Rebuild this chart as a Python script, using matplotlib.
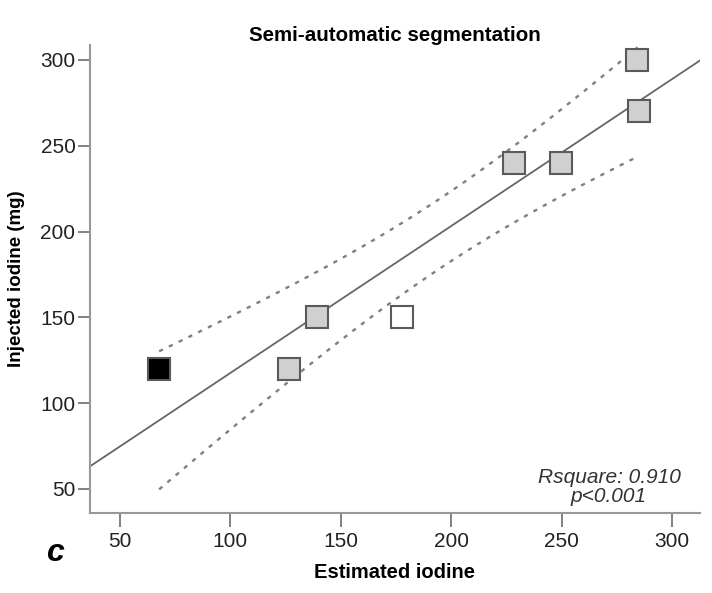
import numpy as np
import matplotlib
matplotlib.use("Agg")
import matplotlib.pyplot as plt

plt.rcParams['font.family'] = ['Liberation Sans', 'DejaVu Sans']

# data
estimated = [67.7, 126.5, 139.2, 177.7, 228.4, 249.7, 284.1, 285.0]
injected = [120, 120, 150, 150, 240, 240, 300, 270]
fills = ['black', '#d0d0d0', '#d0d0d0', 'white', '#d0d0d0', '#d0d0d0', '#d0d0d0', '#d0d0d0']
xticks = [50, 100, 150, 200, 250, 300]
yticks = [50, 100, 150, 200, 250, 300]
rsq_text = "Rsquare: 0.910\np<0.001"

x = np.array(estimated)
y = np.array(injected)
n = len(x)
b, a = np.polyfit(x, y, 1)
resid = y - (a + b * x)
s = np.sqrt(np.sum(resid ** 2) / (n - 2))
t = 2.447  # t(0.975, df=6)
sxx = np.sum((x - x.mean()) ** 2)

W, H = 712, 593
fig = plt.figure(figsize=(W / 100, H / 100), dpi=100)
left, right, top, bottom = 90, 700, 45, 513
ax = fig.add_axes([left / W, 1 - bottom / H, (right - left) / W, (bottom - top) / H])
xlim = (36.4, 312.7)
ylim = (36.0, 308.7)
ax.set_xlim(*xlim)
ax.set_ylim(*ylim)

xl = np.linspace(xlim[0], xlim[1], 100)
ax.plot(xl, a + b * xl, color='#666666', lw=1.3, zorder=2)
xc = np.linspace(x.min(), x.max(), 100)
half = t * s * np.sqrt(1 / n + (xc - x.mean()) ** 2 / sxx)
ax.plot(xc, a + b * xc + half, color='#808080', lw=1.7, ls=(0, (1.8, 2.8)), zorder=2)
ax.plot(xc, a + b * xc - half, color='#808080', lw=1.7, ls=(0, (1.8, 2.8)), zorder=2)

for xi, yi, fc in zip(estimated, injected, fills):
    ax.plot([xi], [yi], marker='s', ms=15.8, mfc=fc, mec='#5a5a5a', mew=1.5,
            ls='none', zorder=3)

for sp in ['top', 'right']:
    ax.spines[sp].set_visible(False)
for sp in ['left', 'bottom']:
    ax.spines[sp].set_color('#999999')
    ax.spines[sp].set_linewidth(1.5)

ax.set_xticks(xticks)
ax.set_yticks(yticks)
ax.tick_params(axis='x', length=10, width=1.3, color='#777777', labelsize=15,
               labelcolor='#222222', pad=4)
ax.tick_params(axis='y', length=8.5, width=1.3, color='#777777', labelsize=15,
               labelcolor='#222222', pad=2)

ax.set_xlabel('Estimated iodine', fontsize=14.5, fontweight='bold', labelpad=8)
ax.set_ylabel('Injected iodine (mg)', fontsize=13.5, fontweight='bold', labelpad=11)
ax.set_title('Semi-automatic segmentation', fontsize=14.8, fontweight='bold', pad=3)

fig.text(609 / W, 1 - 506 / H, rsq_text, ha='center', va='bottom',
         fontsize=15, style='italic', color='#333333', linespacing=1.0)
fig.text(55 / W, 1 - 553 / H, 'c', fontsize=23, fontweight='bold',
         style='italic', ha='center', va='center')

fig.savefig('out.png', dpi=100)
